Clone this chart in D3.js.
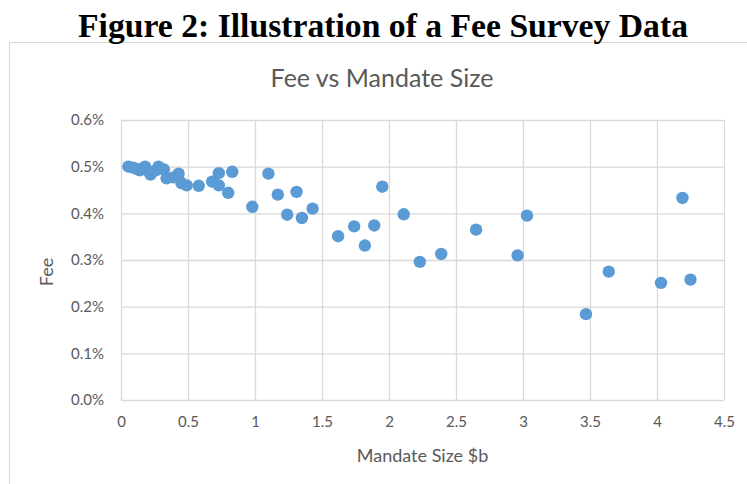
<!DOCTYPE html>
<html><head><meta charset="utf-8">
<script src="https://cdn.jsdelivr.net/npm/d3@7/dist/d3.min.js"></script>
<style>body{margin:0;background:#fff}svg{display:block}</style>
</head><body>
<svg id="c" width="747" height="484"></svg>
<script>
const mandateSize = [0.055,0.09,0.12,0.14,0.18,0.20,0.22,0.26,0.28,0.32,0.34,0.39,0.43,0.45,0.49,0.58,0.68,0.73,0.73,0.80,0.83,0.98,1.10,1.17,1.24,1.31,1.35,1.43,1.62,1.74,1.82,1.89,1.95,2.11,2.23,2.39,2.65,2.96,3.03,3.47,3.64,4.03,4.19,4.25];
const fee = [0.500,0.498,0.495,0.492,0.500,0.492,0.483,0.492,0.500,0.494,0.475,0.477,0.485,0.465,0.460,0.459,0.468,0.486,0.460,0.444,0.489,0.414,0.485,0.440,0.397,0.446,0.390,0.410,0.351,0.372,0.331,0.374,0.457,0.398,0.296,0.313,0.365,0.310,0.395,0.184,0.275,0.251,0.433,0.258];
const xTicks = [0,0.5,1,1.5,2,2.5,3,3.5,4,4.5];
const yTicks = [0,0.1,0.2,0.3,0.4,0.5,0.6];

const svg = d3.select("#c");
const L=121,R=724,T=120,B=400;
const x = d3.scaleLinear().domain([0,4.5]).range([L,R]);
const y = d3.scaleLinear().domain([0,0.6]).range([B,T]);
const font = "Lato, 'Open Sans', sans-serif";

svg.append("rect").attr("x",9.5).attr("y",42.5).attr("width",760).attr("height",460)
  .attr("fill","#fff").attr("stroke","#d9d9d9");

svg.append("text").attr("x",383).attr("y",37).attr("text-anchor","middle")
  .attr("font-family","'Liberation Serif', serif").attr("font-weight","bold")
  .attr("font-size",33).attr("textLength",610).attr("lengthAdjust","spacingAndGlyphs")
  .attr("fill","#000").text("Figure 2: Illustration of a Fee Survey Data");

svg.append("text").attr("x",382).attr("y",87).attr("text-anchor","middle")
  .attr("font-family",font).attr("font-size",25).attr("fill","#595959").text("Fee vs Mandate Size");

const gx = svg.append("g").attr("transform",`translate(0,${B})`)
  .call(d3.axisBottom(x).tickValues(xTicks).tickSize(-(B-T)).tickFormat(d=>d3.format("")(d)).tickPadding(16));
const gy = svg.append("g").attr("transform",`translate(${L},0)`)
  .call(d3.axisLeft(y).tickValues(yTicks).tickSize(-(R-L)).tickFormat(d=>d.toFixed(1)+"%").tickPadding(17));
[gx,gy].forEach(g=>{
  g.select(".domain").remove();
  g.selectAll("line").attr("stroke","#d9d9d9").attr("stroke-width",1.3);
  g.selectAll("text").attr("font-family",font).attr("font-size",15).attr("fill","#595959");
});

svg.append("g").selectAll("circle").data(mandateSize.map((m,i)=>[m,fee[i]])).join("circle")
  .attr("cx",d=>x(d[0])).attr("cy",d=>y(d[1])).attr("r",6.2).attr("fill","#5b9bd5");

svg.append("text").attr("x",(L+R)/2).attr("y",462).attr("text-anchor","middle")
  .attr("font-family",font).attr("font-size",18).attr("fill","#595959").text("Mandate Size $b");
svg.append("text").attr("transform","translate(53,272) rotate(-90)").attr("text-anchor","middle")
  .attr("font-family",font).attr("font-size",18).attr("fill","#595959").text("Fee");
</script>
</body></html>
